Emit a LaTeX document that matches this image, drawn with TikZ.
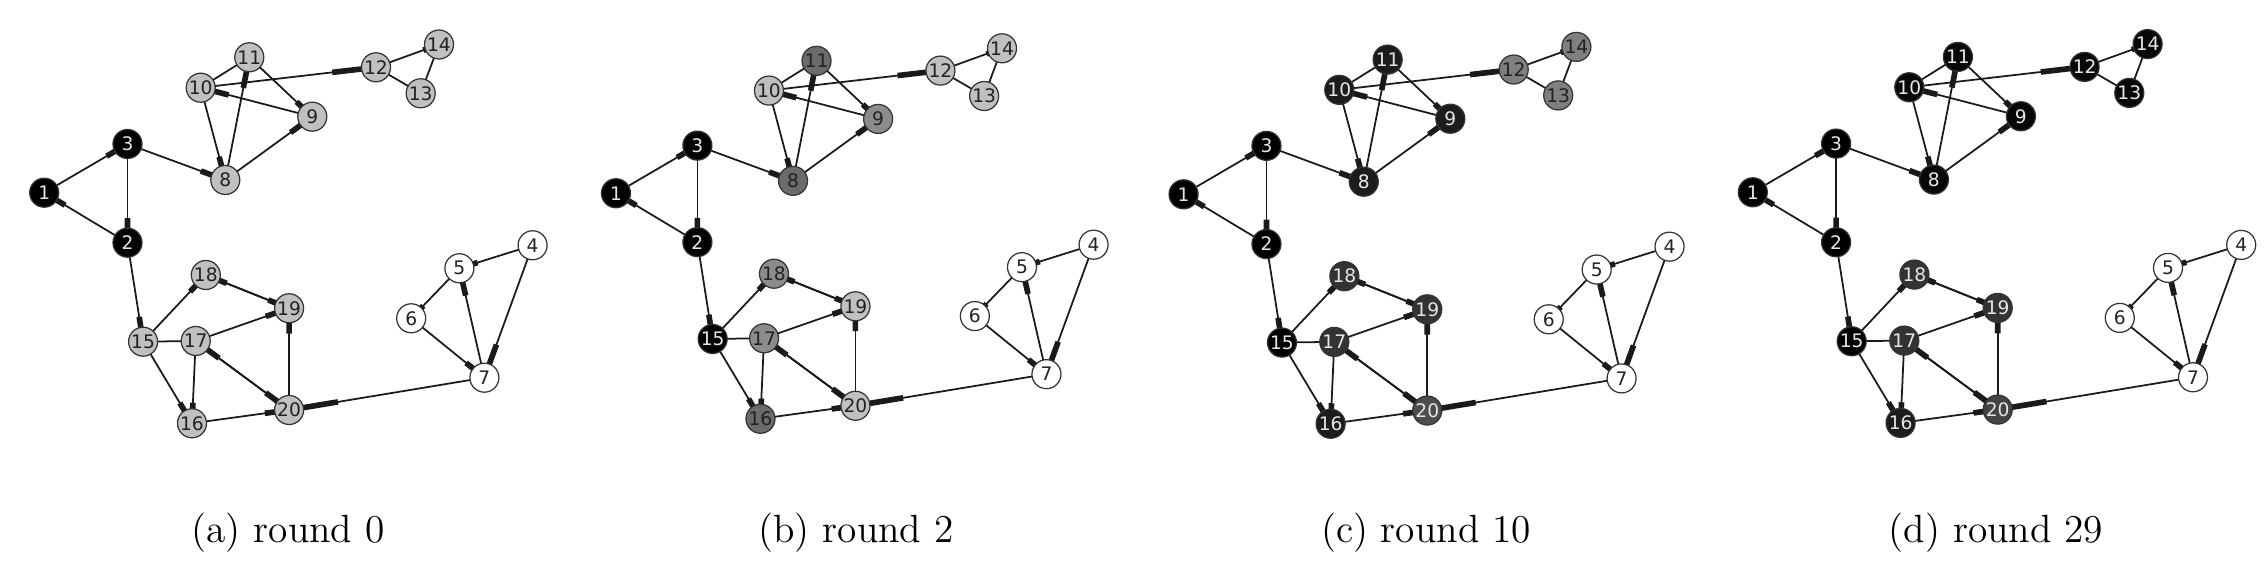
\documentclass[tikz,border=0pt]{standalone}
\usepackage{fontspec}
\newfontfamily\dejavu{DejaVu Sans}
\usetikzlibrary{calc,backgrounds}
\definecolor{vLight}{HTML}{C0C0C0}
\definecolor{vMid}{HTML}{8C8C8C}
\definecolor{vDark}{HTML}{6B6B6B}
\definecolor{vNearBlack}{HTML}{1C1C1C}
\definecolor{vGrayC}{HTML}{7F7F7F}
\definecolor{vCharcoal}{HTML}{333333}
\definecolor{vSlate}{HTML}{4D4D4D}
\definecolor{vSlateD}{HTML}{444444}
\definecolor{vInk}{HTML}{080808}
\definecolor{txtDark}{HTML}{222222}
\definecolor{txtLight}{HTML}{E6E6E6}
\definecolor{edgeCol}{HTML}{1A1A1A}
\def\nodexs{{44.2,127.5,127.5,532.6,459.4,411.2,484.4,225.3,312.3,200.7,249.3,376,420.7,439,143.1,192,195.7,205.8,289.1,289.1}}
\def\nodeys{{192.7,242.7,144,245.3,268.3,318.3,377.7,180,116.7,87.7,57.3,67.3,93.3,44.5,341.7,423.3,341,275,308.3,410}}
\def\edgelist{1/3,2/1,3/2,3/8,8/9,8/11,10/8,9/10,11/9,10/11,10/12,12/13,12/14,13/14,2/15,15/16,15/17,15/18,17/16,16/20,17/19,17/20,20/17,18/19,19/18,20/19,7/20,4/5,4/7,5/6,6/7,7/5}
\newcommand\drawpanel[2]{%
  \foreach \s [count=\n] in {#2} {%
    \pgfmathsetmacro\px{\nodexs[\n-1]}%
    \pgfmathsetmacro\py{\nodeys[\n-1]}%
    \node[vtx,\s] (#1\n) at (\px,\py) {\n};
  }
  \begin{pgfonlayer}{background}
  \foreach \u/\v in \edgelist {%
    \draw[edgeline] (#1\u.center) -- (#1\v.center);
    \draw[headseg] ($(#1\u.center)!0.75!(#1\v.center)$) -- (#1\v.center);
  }
  \end{pgfonlayer}
}
\begin{document}
\begin{tikzpicture}[x=0.01cm,y=-0.01cm,
  vtx/.style={circle,draw=black!80,line width=0.35pt,minimum size=0.29cm,inner sep=0pt,
    font=\dejavu\fontsize{5.3}{6}\selectfont},
  fBlack/.style={fill=black,text=txtLight},
  fWhite/.style={fill=white,text=txtDark},
  fLight/.style={fill=vLight,text=txtDark},
  fMid/.style={fill=vMid,text=txtDark},
  fDark/.style={fill=vDark,text=txtDark},
  fNear/.style={fill=vNearBlack,text=txtLight},
  fGray/.style={fill=vGrayC,text=txtDark},
  fChar/.style={fill=vCharcoal,text=txtLight},
  fSlate/.style={fill=vSlate,text=txtLight},
  fInk/.style={fill=vInk,text=txtLight},
  fSlateD/.style={fill=vSlateD,text=txtLight},
  edgeline/.style={draw=edgeCol,line width=0.5pt},
  headseg/.style={draw=edgeCol,line width=1.6pt,line cap=butt},
  captiontext/.style={anchor=base,font=\fontsize{11.2}{13}\selectfont}]
\path[use as bounding box] (0,0) rectangle (2268,574);
\begin{scope}
\drawpanel{a}{fBlack,fBlack,fBlack,fWhite,fWhite,fWhite,fWhite,fLight,fLight,fLight,fLight,fLight,fLight,fLight,fLight,fLight,fLight,fLight,fLight,fLight}
\end{scope}
\begin{scope}[shift={(572.7,4.8)},scale=0.978]
\drawpanel{b}{fBlack,fBlack,fBlack,fWhite,fWhite,fWhite,fWhite,fDark,fMid,fLight,fDark,fLight,fLight,fLight,fBlack,fDark,fMid,fMid,fLight,fLight}
\end{scope}
\begin{scope}[shift={(1139.6,2.6)},scale=0.995]
\drawpanel{c}{fBlack,fBlack,fBlack,fWhite,fWhite,fWhite,fWhite,fNear,fNear,fNear,fNear,fGray,fGray,fGray,fBlack,fNear,fChar,fChar,fChar,fSlate}
\end{scope}
\begin{scope}[shift={(1708.6,-0.4)}]
\drawpanel{d}{fBlack,fBlack,fBlack,fWhite,fWhite,fWhite,fWhite,fInk,fInk,fInk,fInk,fInk,fInk,fInk,fBlack,fNear,fChar,fChar,fChar,fSlateD}
\end{scope}
\node[captiontext] (capa) at (288,543) {(a) round 0};
\node[captiontext] (capb) at (856,543) {(b) round 2};
\node[captiontext] (capc) at (1426,543) {(c) round 10};
\node[captiontext] (capd) at (1996,543) {(d) round 29};
\end{tikzpicture}
\end{document}
